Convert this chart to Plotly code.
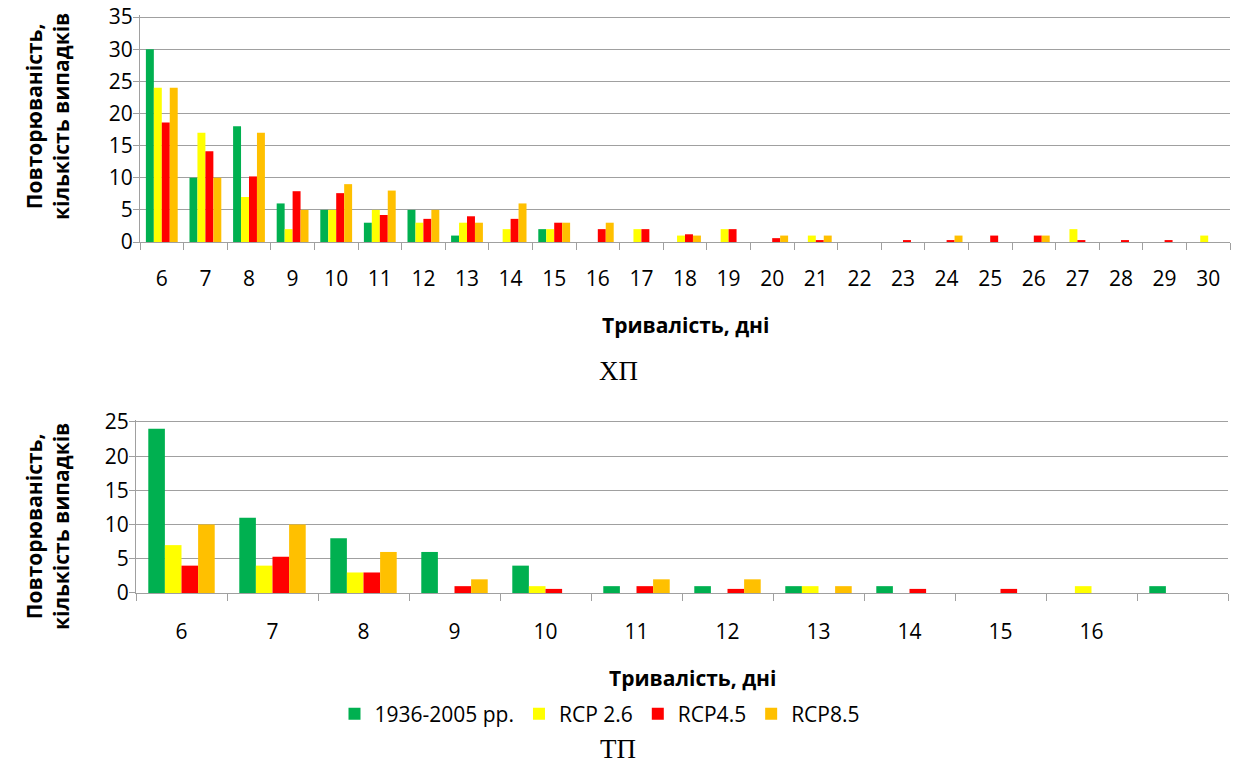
import plotly.graph_objects as go

# ---- Data: ХП (top chart) ----
cats_xp = [str(d) for d in range(6, 31)]
xp_hist = [30, 10, 18, 6, 5, 3, 5, 1, 0, 2, 0, 0, 0, 0, 0, 0, 0, 0, 0, 0, 0, 0, 0, 0, 0]
xp_rcp26 = [24, 17, 7, 2, 5, 5, 3, 3, 2, 2, 0, 2, 1, 2, 0, 1, 0, 0, 0, 0, 0, 2, 0, 0, 1]
xp_rcp45 = [18.6, 14.1, 10.2, 7.9, 7.6, 4.2, 3.6, 4.0, 3.6, 3, 2, 2, 1.2, 2, 0.6, 0.2, 0, 0.2, 0.2, 1, 1, 0.2, 0.2, 0.2, 0]
xp_rcp85 = [24, 10, 17, 5, 9, 8, 5, 3, 6, 3, 3, 0, 1, 0, 1, 1, 0, 0, 1, 0, 1, 0, 0, 0, 0]

# ---- Data: ТП (bottom chart) ----
cats_tp = [str(d) for d in range(6, 18)]
tp_ticktext = [str(d) for d in range(6, 17)] + [""]
tp_hist = [24, 11, 8, 6, 4, 1, 1, 1, 1, 0, 0, 1]
tp_rcp26 = [7, 4, 3, 0, 1, 0, 0, 1, 0, 0, 1, 0]
tp_rcp45 = [4, 5.3, 3, 1, 0.6, 1, 0.6, 0, 0.6, 0.6, 0, 0]
tp_rcp85 = [10, 10, 6, 2, 0, 2, 2, 1, 0, 0, 0, 0]

names = ["1936-2005 рр.", "RCP 2.6", "RCP4.5", "RCP8.5"]
colors = ["#00B050", "#FFFF00", "#FF0000", "#FFC000"]

W, H = 1234, 765
FONT = "Open Sans"
GRID = "#A0A0A0"
FS = 21

fig = go.Figure()

for name, col, vals in zip(names, colors, [xp_hist, xp_rcp26, xp_rcp45, xp_rcp85]):
    fig.add_trace(go.Bar(x=cats_xp, y=vals, name=name, marker=dict(color=col, line=dict(width=0)),
                         xaxis="x", yaxis="y", showlegend=False))
for name, col, vals in zip(names, colors, [tp_hist, tp_rcp26, tp_rcp45, tp_rcp85]):
    fig.add_trace(go.Bar(x=cats_tp, y=vals, name=name, marker=dict(color=col, line=dict(width=0)),
                         xaxis="x2", yaxis="y2", showlegend=True))

def px_x(p):
    return p / W

def px_y(p):
    return 1 - p / H

axis_font = dict(family=FONT, size=FS, color="#000000")

common_x = dict(type="category", tickson="boundaries", ticks="outside", ticklen=7, tickcolor=GRID,
                showline=True, linecolor=GRID, linewidth=1, showgrid=False,
                tickfont=axis_font, automargin=False)
common_y = dict(dtick=5, tick0=0, ticks="outside", ticklen=6, tickcolor=GRID,
                showline=True, linecolor=GRID, linewidth=1,
                showgrid=True, gridcolor=GRID, gridwidth=1, zeroline=False,
                tickfont=axis_font, automargin=False, ticklabelstandoff=-4,
                ticklabeloverflow="allow")

# small headroom above the top gridline so it is drawn inside the plot area
top_pad_xp = 0.3
top_pad_tp = 0.3
unit_xp = (242 - 17) / 35
unit_tp = (593 - 422) / 25

fig.update_layout(
    template="none",
    width=W, height=H, autosize=False,
    margin=dict(l=0, r=0, t=0, b=0),
    paper_bgcolor="white", plot_bgcolor="white",
    barmode="group", bargap=0.27, bargroupgap=0,
    font=dict(family=FONT, size=FS, color="#000000"),
    xaxis=dict(domain=[px_x(140), px_x(1230)], anchor="y", ticklabelstandoff=18, **common_x),
    yaxis=dict(domain=[px_y(242), px_y(17 - top_pad_xp * unit_xp)], anchor="x",
               range=[0, 35 + top_pad_xp], **common_y),
    xaxis2=dict(domain=[px_x(136), px_x(1228)], anchor="y2",
                tickvals=cats_tp, ticktext=tp_ticktext, ticklabelstandoff=20, **common_x),
    yaxis2=dict(domain=[px_y(593), px_y(422 - top_pad_tp * unit_tp)], anchor="x2",
                range=[0, 25 + top_pad_tp], **common_y),
    legend=dict(orientation="h", x=px_x(600), xanchor="center", y=px_y(714), yanchor="middle",
                font=dict(family=FONT, size=FS), traceorder="normal", itemwidth=30,
                bgcolor="rgba(0,0,0,0)", borderwidth=0),
)

ytitle = "<b>Повторюваність,</b><br><b>кількість випадків</b>"
for yy in (117, 527):
    fig.add_annotation(text=ytitle, x=px_x(47), y=px_y(yy), xref="paper", yref="paper",
                       xanchor="center", yanchor="middle", showarrow=False, textangle=-90,
                       font=dict(family=FONT, size=FS, color="#000000"))
for xx, yy in ((685, 325), (692, 678)):
    fig.add_annotation(text="<b>Тривалість, дні</b>", x=px_x(xx), y=px_y(yy), xref="paper", yref="paper",
                       xanchor="center", yanchor="middle", showarrow=False,
                       font=dict(family=FONT, size=FS, color="#000000"))

for t, yy in [("ХП", 371), ("ТП", 749)]:
    fig.add_annotation(text=t, x=px_x(618), y=px_y(yy), xref="paper", yref="paper",
                       xanchor="center", yanchor="middle", showarrow=False,
                       font=dict(family="Liberation Serif", size=27, color="#000000"))

fig.write_html("out.html", config={"displayModeBar": False},
               post_script="document.body.style.margin='0';")
